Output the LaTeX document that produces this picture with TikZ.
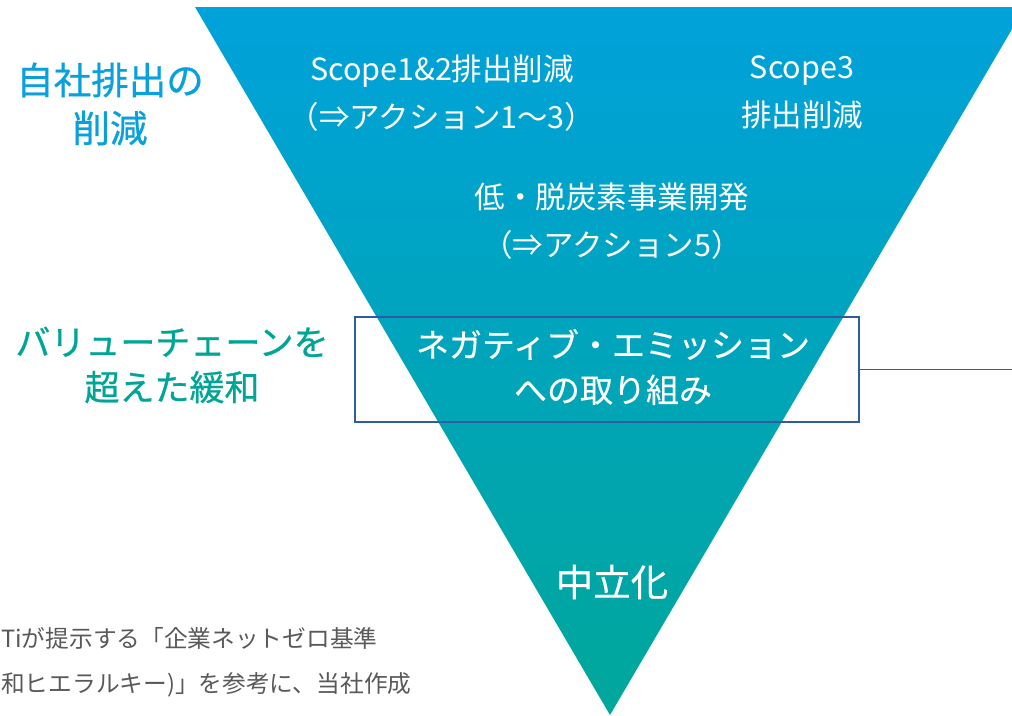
\documentclass[tikz,border=0pt]{standalone}
\usepackage{fontspec}
\setmainfont{Noto Sans CJK JP}
\newfontfamily\headfont{Noto Sans CJK JP}[FakeBold=0.7]
\newfontfamily\midfont{Noto Sans CJK JP}[FakeBold=0.35]
\definecolor{triTop}{HTML}{00A2DA}
\definecolor{triBot}{HTML}{00A79A}
\definecolor{headBlue}{HTML}{0AA0DC}
\definecolor{headTeal}{HTML}{00A596}
\definecolor{boxBlue}{HTML}{2F5C9E}
\definecolor{noteGray}{HTML}{595959}
\tikzset{
  whitetxt/.style={text=white, align=center, inner sep=0pt, font=\fontsize{30.5}{48}\selectfont},
  headtxt/.style={align=center, inner sep=0pt},
  frame/.style={draw=boxBlue, line width=1.9pt},
}
\begin{document}
\begin{tikzpicture}[x=1pt,y=-1pt]
\useasboundingbox (0,0) rectangle (1012,715);
\clip (0,0) rectangle (1012,715);
% inverted triangle
\shade[top color=triTop, bottom color=triBot] (195,7) -- (1025,7) -- (610,715) -- cycle;
% left headings
\node[headtxt, text=headBlue, font=\headfont\fontsize{37.5}{48}\selectfont] (h1) at (110,104) {自社排出の\\削減};
\node[headtxt, text=headTeal, font=\headfont\fontsize{35}{45}\selectfont] (h2) at (172,365) {バリューチェーンを\\超えた緩和};
% texts inside triangle
\node[whitetxt] (s12) at (442,93) {Scope1\&2排出削減\\（⇒アクション1〜3）};
\node[whitetxt] (s3) at (802,92) {Scope3\\排出削減};
\node[whitetxt] (dev) at (612,221) {低・脱炭素事業開発\\（⇒アクション5）};
% box
\node[frame, minimum width=504pt, minimum height=105pt, inner sep=0pt] (box) at (607,369.5) {};
\node[whitetxt, font=\midfont\fontsize{33}{45}\selectfont] (neg) at (613,367) {ネガティブ・エミッション\\への取り組み};
\coordinate (rend) at (1014,369.5);
\draw[boxBlue, line width=1.9pt] (box.east) -- (rend);
\node[whitetxt, font=\midfont\fontsize{37.5}{40}\selectfont] (neu) at (612,582) {中立化};
% source note
\node[align=left, inner sep=0pt, anchor=west, text=noteGray, font=\fontsize{23.7}{45}\selectfont] (note) at (1,662) {Tiが提示する「企業ネットゼロ基準\\和ヒエラルキー)」を参考に、当社作成};
\end{tikzpicture}
\end{document}
